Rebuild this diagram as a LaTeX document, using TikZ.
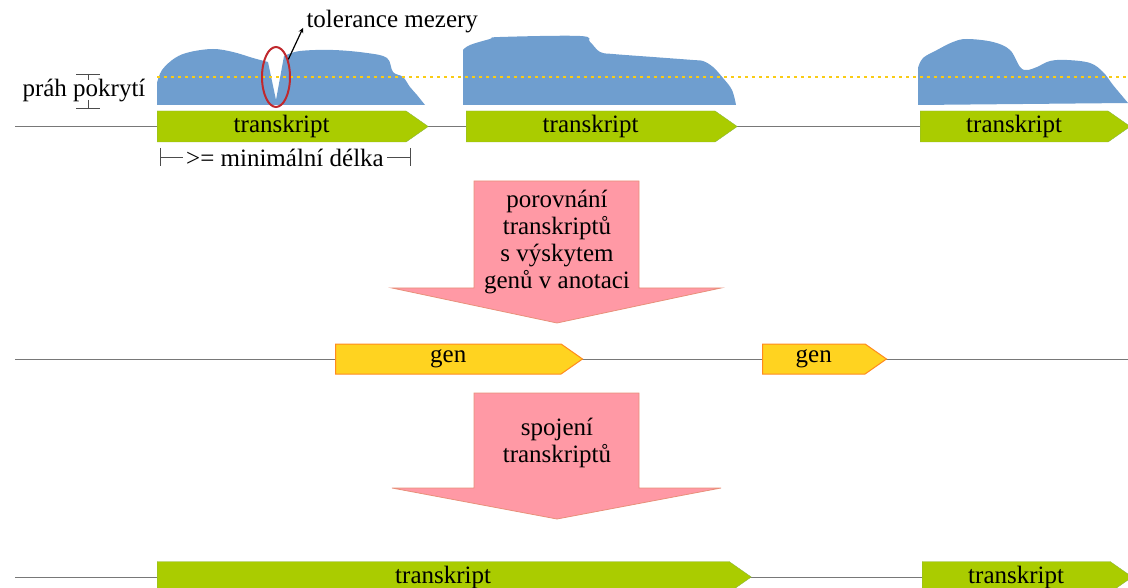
\documentclass[tikz,border=0pt]{standalone}
\usepackage{fontspec}
\setmainfont{Liberation Serif}
\usepackage{tikz}
\usetikzlibrary{positioning, calc, arrows, shapes}

\definecolor{covblue}{RGB}{111,158,207}
\definecolor{trgreen}{RGB}{170,204,0}
\definecolor{trline}{RGB}{141,182,60}
\definecolor{genyellow}{RGB}{255,211,32}
\definecolor{genline}{RGB}{255,138,30}
\definecolor{stepink}{RGB}{255,153,165}
\definecolor{stepline}{RGB}{232,144,122}
\definecolor{thrline}{RGB}{250,204,20}
\definecolor{gapred}{RGB}{192,40,45}
\definecolor{axisgray}{RGB}{120,120,120}

\tikzset{
  transcript/.style={signal, signal to=east, signal pointer angle=70, draw=trline, fill=trgreen,
    minimum height=31, inner sep=0pt, anchor=west},
  gene/.style={signal, signal to=east, signal pointer angle=70, draw=genline, line width=1pt, fill=genyellow,
    minimum height=30, inner sep=0pt, anchor=west},
  axis/.style={draw=axisgray, line width=0.8pt},
  blob/.style={fill=covblue},
  threshold/.style={draw=thrline, line width=2.6pt, dash pattern=on 2.6pt off 4.4pt},
  bigarrow/.style={fill=stepink, draw=stepline, line width=0.8pt},
  dimline/.style={draw=black!70, line width=0.8pt},
  pointer/.style={-stealth, line width=1.2pt}
}

\begin{document}
\begin{tikzpicture}[x=1pt, y=-1pt, font=\fontsize{25}{27}\selectfont]

      \useasboundingbox (0,0) rectangle (1128,588);
      \clip (0,0) rectangle (1128,588);

      % COVERAGE

      \fill[blob] (157,105) -- plot[smooth, tension=0.6] coordinates {(157,83) (162,70) (175,58) (190,52) (213,49) (233,52) (253,58) (268,62)}
        -- (276,100) -- plot[smooth, tension=0.6] coordinates {(284,56) (300,51) (333,50) (367,53) (387,58) (393,72) (403,77) (410,87) (417,95) (425,105)} -- cycle;
      \fill[blob] (463,105) -- plot[smooth, tension=0.6] coordinates {(463,50) (470,45) (490,39) (500,37) (580,36) (590,42) (600,52) (613,54) (653,57) (693,60) (703,61) (713,67) (723,78) (732,90) (736,105)} -- cycle;
      \fill[blob] (918,105) -- plot[smooth, tension=0.6] coordinates {(918,68) (923,58) (937,50) (953,42) (967,39) (993,42) (1010,50) (1020,67) (1027,70) (1037,67) (1050,61) (1067,60) (1090,63) (1103,72) (1113,85) (1123,97) (1128,103)} -- cycle;

      \coordinate (thr0) at (157,77);
      \coordinate (thr1) at (1128,77);
      \draw[threshold] (thr0) -- (thr1);

      % ROW 1

      \coordinate (a1) at (15,126.5);
      \coordinate (b1) at (1128,126.5);
      \draw[axis] (a1) -- (b1);

      \node[transcript, minimum width=271] (t1) at (157,126.5) {transkript};
      \node[transcript, minimum width=271] (t2) at (466,126.5) {transkript};
      \node[transcript, minimum width=210] (t3) at (920,126.5) {transkript};

      % LABELS

      \node[anchor=west] (thrLabel) at (19,91) {práh pokrytí};
      \draw[dimline] (76,74) -- (100,74) (88,74) -- (88,80);
      \draw[dimline] (76,108) -- (100,108) (88,100) -- (88,108);

      \node[ellipse, draw=gapred, line width=2pt, minimum width=28, minimum height=60, inner sep=0pt] (gap) at (276,77) {};
      \node[anchor=west] (tol) at (303,22) {tolerance mezery};
      \draw[pointer] (gap.55) -- ($(tol.west)+(0,6)$);

      \node (minLen) at (285,158) {>= minimální délka};
      \coordinate (d0) at (160,157);
      \coordinate (d1) at (410,157);
      \draw[dimline] (d0) -- (minLen.west |- d0);
      \draw[dimline] (minLen.east |- d1) -- (d1);
      \draw[dimline] ($(d0)-(0,9)$) -- ($(d0)+(0,9)$);
      \draw[dimline] ($(d1)-(0,9)$) -- ($(d1)+(0,9)$);

      % STEP 1

      \draw[bigarrow] (474,181) -- (639,181) -- (639,288) -- (721,288) -- (557,323) -- (392,288) -- (474,288) -- cycle;
      \node[align=center] (cmpText) at (557,242) {porovnání\\transkriptů\\s výskytem\\genů v anotaci};

      % ROW 2

      \coordinate (a2) at (15,359);
      \coordinate (b2) at (1128,359);
      \draw[axis] (a2) -- (b2);

      \node[gene, minimum width=247] (g1) at (335,359) {gen};
      \node[gene, minimum width=124] (g2) at (762,359) {gen};

      % STEP 2

      \draw[bigarrow] (474,393) -- (639,393) -- (639,488) -- (721,488) -- (557,519) -- (392,488) -- (474,488) -- cycle;
      \node[align=center] (joinText) at (557,443) {spojení\\transkriptů};

      % ROW 3

      \coordinate (a3) at (15,577);
      \coordinate (b3) at (1128,577);
      \draw[axis] (a3) -- (b3);

      \node[transcript, minimum width=594] (t4) at (157,577) {transkript};
      \node[transcript, minimum width=210] (t5) at (922,577) {transkript};

    \end{tikzpicture}
\end{document}
